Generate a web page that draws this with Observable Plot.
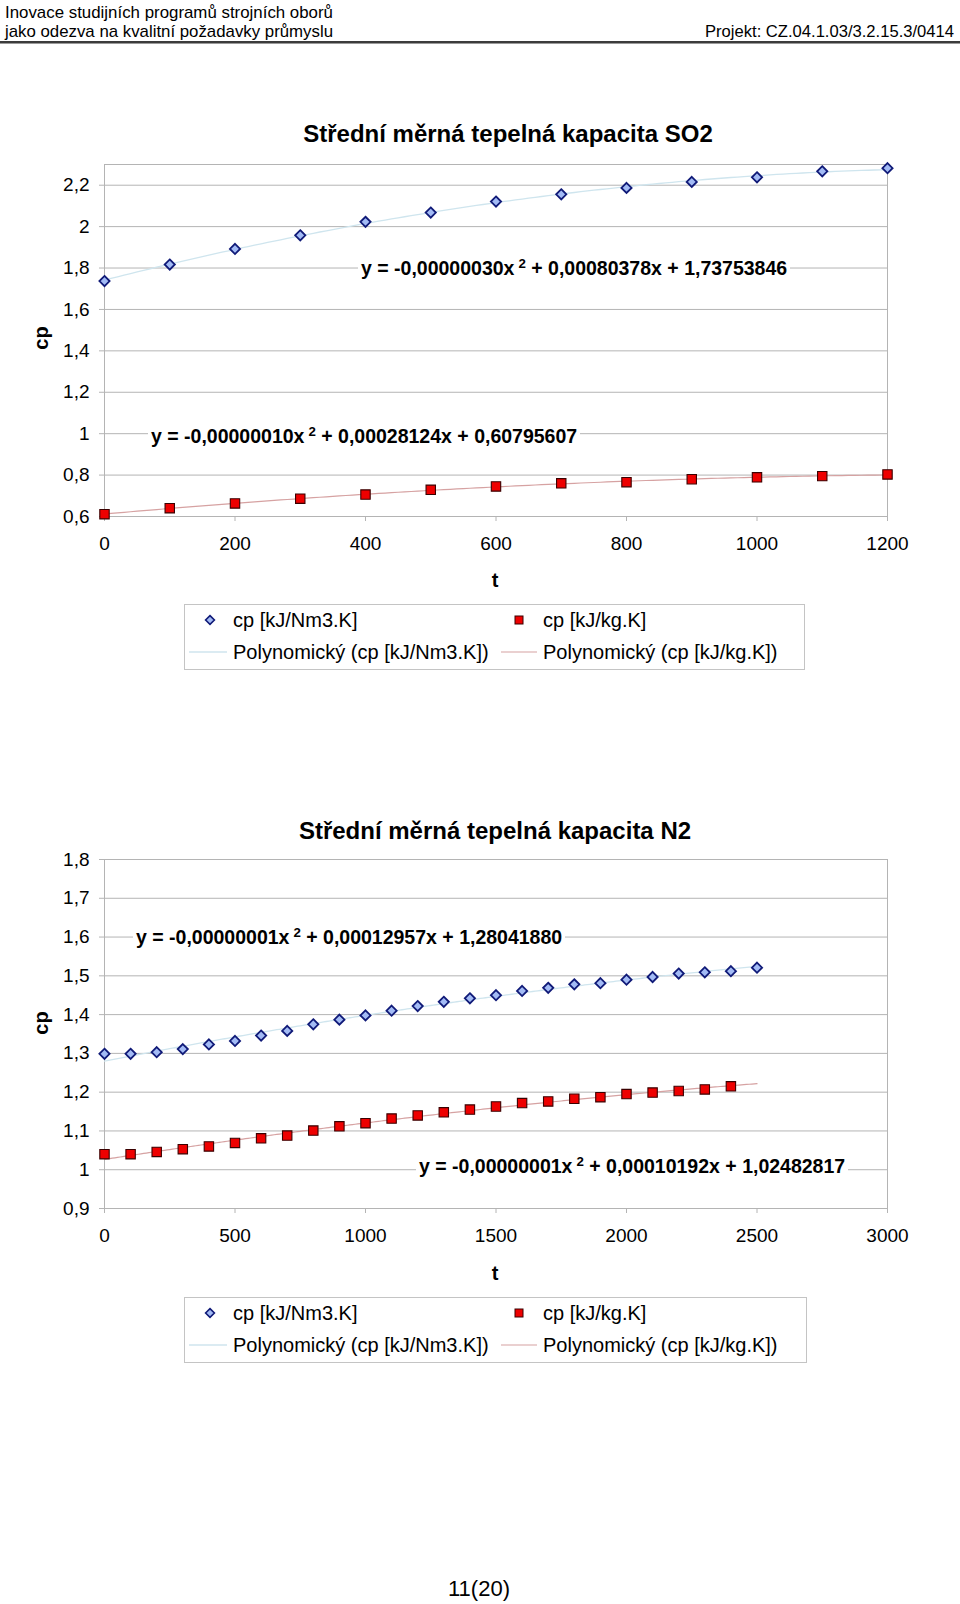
<!DOCTYPE html>
<html><head><meta charset="utf-8">
<script src="https://cdn.jsdelivr.net/npm/d3@7"></script>
<script src="https://cdn.jsdelivr.net/npm/@observablehq/plot@0.6"></script>
<style>
body{margin:0;background:#fff;}
#page{position:relative;width:960px;height:1604px;font-family:"Liberation Sans",Arial,sans-serif;color:#000;overflow:hidden;background:#fff;}
.abs{position:absolute;white-space:nowrap;}
.eq{background:#fff;padding:0 3px;}
.eq sup{font-size:0.68em;vertical-align:0.55em;line-height:0;margin-left:4px;}
.legend{position:absolute;border:1px solid #c4c4c4;background:#fff;box-sizing:border-box;}
</style></head><body><div id="page"></div>
<script>
// ---------- data ----------
const headerLine1 = "Inovace studijních programů strojních oborů";
const headerLine2 = "jako odezva na kvalitní požadavky průmyslu";
const headerRight = "Projekt: CZ.04.1.03/3.2.15.3/0414";
const pageNumber = "11(20)";

const so2Title = "Střední měrná tepelná kapacita SO2";
const so2T = [0,100,200,300,400,500,600,700,800,900,1000,1100,1200];
const so2Nm3 = [1.737,1.817,1.892,1.958,2.023,2.068,2.121,2.156,2.187,2.216,2.238,2.267,2.282];
const so2Kg  = [0.611,0.640,0.663,0.686,0.706,0.729,0.745,0.760,0.766,0.780,0.789,0.795,0.803];
const so2XTicks = [0,200,400,600,800,1000,1200];
const so2YTicks = [0.6,0.8,1,1.2,1.4,1.6,1.8,2,2.2];
const so2EqNm3 = "y = -0,00000030x<sup>2</sup> + 0,00080378x + 1,73753846";
const so2EqKg  = "y = -0,00000010x<sup>2</sup> + 0,00028124x + 0,60795607";

const n2Title = "Střední měrná tepelná kapacita N2";
const n2TNm3 = [0,100,200,300,400,500,600,700,800,900,1000,1100,1200,1300,1400,1500,1600,1700,1800,1900,2000,2100,2200,2300,2400,2500];
const n2Nm3 = [1.299,1.299,1.303,1.311,1.323,1.332,1.346,1.358,1.375,1.387,1.398,1.410,1.422,1.433,1.442,1.450,1.461,1.469,1.478,1.481,1.490,1.497,1.506,1.509,1.512,1.521];
const n2TKg = [0,100,200,300,400,500,600,700,800,900,1000,1100,1200,1300,1400,1500,1600,1700,1800,1900,2000,2100,2200,2300,2400];
const n2Kg  = [1.040,1.040,1.046,1.053,1.060,1.069,1.081,1.088,1.101,1.112,1.120,1.132,1.140,1.148,1.155,1.163,1.172,1.176,1.183,1.187,1.195,1.199,1.203,1.207,1.215];
const n2XTicks = [0,500,1000,1500,2000,2500,3000];
const n2YTicks = [0.9,1,1.1,1.2,1.3,1.4,1.5,1.6,1.7,1.8];
const n2EqNm3 = "y = -0,00000001x<sup>2</sup> + 0,00012957x + 1,28041880";
const n2EqKg  = "y = -0,00000001x<sup>2</sup> + 0,00010192x + 1,02482817";

const seriesNames = ["cp [kJ/Nm3.K]", "cp [kJ/kg.K]", "Polynomický (cp [kJ/Nm3.K])", "Polynomický (cp [kJ/kg.K])"];
const axisYLabel = "cp";
const axisXLabel = "t";

// ---------- helpers ----------
const FONT = "'Liberation Sans', Arial, sans-serif";
const C = {
  grid: "#b4b4b4", diaFill: "#a3bbf5", diaStroke: "#101a78",
  sqFill: "#ee0000", sqStroke: "#3a0000",
  trendBlue: "#cfe5ee", trendRed: "#d6a2a2"
};
const fmtComma = d => String(d).replace(".", ",");

// quadratic least-squares fit (Excel "Polynomický" trendline, order 2)
function quadFit(xs, ys) {
  const s = xs.map(x => x / 1000);
  const S = [0,0,0,0,0], T = [0,0,0];
  s.forEach((x, i) => {
    for (let k = 0; k < 5; k++) S[k] += x ** k;
    for (let k = 0; k < 3; k++) T[k] += ys[i] * x ** k;
  });
  const A = [[S[0],S[1],S[2],T[0]],[S[1],S[2],S[3],T[1]],[S[2],S[3],S[4],T[2]]];
  for (let i = 0; i < 3; i++) {
    for (let j = i + 1; j < 3; j++) {
      const f = A[j][i] / A[i][i];
      for (let k = i; k < 4; k++) A[j][k] -= f * A[i][k];
    }
  }
  const c = [0,0,0];
  for (let i = 2; i >= 0; i--) {
    let v = A[i][3];
    for (let k = i + 1; k < 3; k++) v -= A[i][k] * c[k];
    c[i] = v / A[i][i];
  }
  return x => c[0] + c[1] * (x / 1000) + c[2] * (x / 1000) ** 2;
}
function trendTable(xs, ys, xmax) {
  const f = quadFit(xs, ys);
  return d3.range(0, xmax + 0.001, 10).map(x => ({x, y: f(x)}));
}

const page = d3.select("#page");
function label(html, x, y, {size = 20, bold = false, anchor = "start", rotate = 0, cls = ""} = {}) {
  const tx = anchor === "middle" ? "-50%" : anchor === "end" ? "-100%" : "0";
  page.append("div").attr("class", "abs " + cls)
    .style("left", x + "px").style("top", y + "px")
    .style("font-size", size + "px").style("font-weight", bold ? "bold" : "normal")
    .style("line-height", "1.05")
    .style("transform", `translate(${tx},-50%)` + (rotate ? ` rotate(${rotate}deg)` : ""))
    .html(html);
}

function chart({top, xDomain, yDomain, xTicks, yTicks, tA, yA, tB, yB, xmaxA, xmaxB, marginBottom}) {
  const tableA = tA.map((t, i) => ({t, v: yA[i]}));
  const tableB = tB.map((t, i) => ({t, v: yB[i]}));
  const svg = Plot.plot({
    width: 960, height: 410,
    marginLeft: 104, marginRight: 73, marginTop: 14, marginBottom,
    style: {fontFamily: FONT, fontSize: "19px", color: "#000", background: "transparent", overflow: "visible"},
    x: {domain: xDomain},
    y: {domain: yDomain},
    marks: [
      Plot.gridY(yTicks, {stroke: C.grid, strokeOpacity: 1}),
      Plot.frame({stroke: C.grid}),
      Plot.axisY({ticks: yTicks, tickFormat: fmtComma, tickSize: 5, tickPadding: 10, stroke: C.grid, fill: "#000", label: null}),
      Plot.axisX({ticks: xTicks, tickFormat: d => String(d), tickSize: 5, tickPadding: 15, stroke: C.grid, fill: "#000", label: null}),
      Plot.line(trendTable(tA, yA, xmaxA), {x: "x", y: "y", stroke: C.trendBlue, strokeWidth: 1.3}),
      Plot.line(trendTable(tB, yB, xmaxB), {x: "x", y: "y", stroke: C.trendRed, strokeWidth: 1.2}),
      Plot.dot(tableA, {x: "t", y: "v", symbol: "diamond2", r: 4.6, fill: C.diaFill, stroke: C.diaStroke, strokeWidth: 1.8}),
      Plot.dot(tableB, {x: "t", y: "v", symbol: "square", r: 5.3, fill: C.sqFill, stroke: C.sqStroke, strokeWidth: 1.1})
    ]
  });
  page.append("div").attr("class", "abs").style("left", "0px").style("top", top + "px").node().appendChild(svg);
}

function legend(left, top, w, h) {
  page.append("div").attr("class", "legend")
    .style("left", left + "px").style("top", top + "px").style("width", w + "px").style("height", h + "px");
  const r1 = top + 16, r2 = top + 48;
  const svg = page.append("svg").attr("class", "abs").attr("width", w).attr("height", h)
    .style("left", left + "px").style("top", top + "px").style("overflow", "visible");
  const dx = 26, dy = 16, d = 4.4;
  svg.append("path").attr("d", `M${dx},${dy - d}L${dx + d},${dy}L${dx},${dy + d}L${dx - d},${dy}Z`)
    .attr("fill", C.diaFill).attr("stroke", C.diaStroke).attr("stroke-width", 1.6);
  svg.append("rect").attr("x", 335 - 4).attr("y", 16 - 4).attr("width", 8).attr("height", 8)
    .attr("fill", C.sqFill).attr("stroke", C.sqStroke).attr("stroke-width", 1);
  svg.append("line").attr("x1", 5).attr("x2", 43).attr("y1", 48).attr("y2", 48).attr("stroke", C.trendBlue).attr("stroke-width", 1.3);
  svg.append("line").attr("x1", 317).attr("x2", 353).attr("y1", 48).attr("y2", 48).attr("stroke", C.trendRed).attr("stroke-width", 1.2);
  label(seriesNames[0], left + 49, r1, {size: 20});
  label(seriesNames[1], left + 359, r1, {size: 20});
  label(seriesNames[2], left + 49, r2, {size: 20});
  label(seriesNames[3], left + 359, r2, {size: 20});
}

// ---------- header ----------
const hdr = page.append("svg").attr("class", "abs").attr("width", 960).attr("height", 50)
  .style("left", "0px").style("top", "0px");
const hFont = {"font-family": FONT, "font-size": 17, fill: "#000"};
function htext(txt, x, y, len) {
  const t = hdr.append("text").attr("x", x).attr("y", y).attr("textLength", len)
    .attr("lengthAdjust", "spacingAndGlyphs").text(txt);
  Object.entries(hFont).forEach(([k, v]) => t.attr(k, v));
}
htext(headerLine1, 5, 18, 328);
htext(headerLine2, 5, 37, 328);
htext(headerRight, 705, 37, 249);
hdr.append("rect").attr("x", 0).attr("y", 41).attr("width", 960).attr("height", 2).attr("fill", "#3c3c3c");
hdr.append("rect").attr("x", 0).attr("y", 43).attr("width", 960).attr("height", 1).attr("fill", "#9a9a9a");

// ---------- chart 1: SO2 ----------
chart({top: 150, xDomain: [0, 1200], yDomain: [0.6, 2.3], xTicks: so2XTicks, yTicks: so2YTicks,
  tA: so2T, yA: so2Nm3, tB: so2T, yB: so2Kg, xmaxA: 1200, xmaxB: 1200, marginBottom: 44});
label(so2Title, 508, 134, {size: 24, bold: true, anchor: "middle"});
label(axisYLabel, 41, 338, {size: 20, bold: true, anchor: "middle", rotate: -90});
label(axisXLabel, 495, 580, {size: 20, bold: true, anchor: "middle"});
label(so2EqNm3, 358, 268, {size: 19.5, bold: true, cls: "eq"});
label(so2EqKg, 148, 436, {size: 19.5, bold: true, cls: "eq"});
legend(184, 604, 621, 66);

// ---------- chart 2: N2 ----------
chart({top: 845, xDomain: [0, 3000], yDomain: [0.9, 1.8], xTicks: n2XTicks, yTicks: n2YTicks,
  tA: n2TNm3, yA: n2Nm3, tB: n2TKg, yB: n2Kg, xmaxA: 2500, xmaxB: 2500, marginBottom: 47});
label(n2Title, 495, 831, {size: 24, bold: true, anchor: "middle"});
label(axisYLabel, 41, 1023, {size: 20, bold: true, anchor: "middle", rotate: -90});
label(axisXLabel, 495, 1273, {size: 20, bold: true, anchor: "middle"});
label(n2EqNm3, 133, 937, {size: 19.5, bold: true, cls: "eq"});
label(n2EqKg, 416, 1166, {size: 19.5, bold: true, cls: "eq"});
legend(184, 1297, 623, 66);

// ---------- footer ----------
label(pageNumber, 479, 1589, {size: 22, anchor: "middle"});
</script></body></html>
